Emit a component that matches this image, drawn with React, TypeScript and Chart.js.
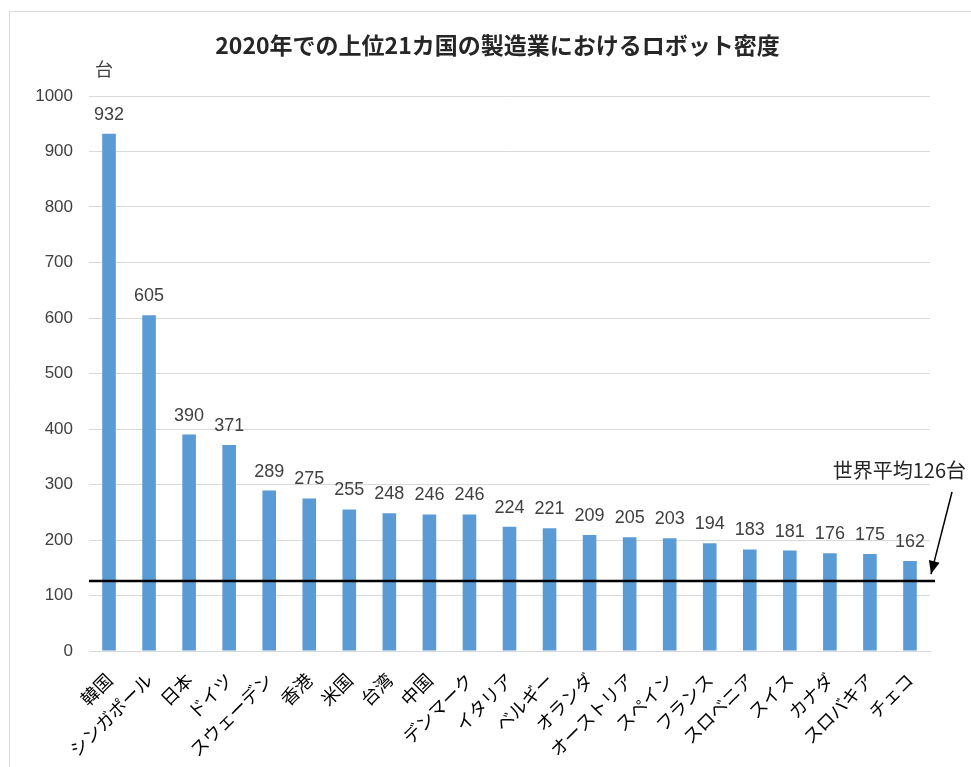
import React, { useEffect, useRef } from "react";
import { Chart, registerables } from "chart.js";

Chart.register(...registerables);

const TITLE = "2020年での上位21カ国の製造業におけるロボット密度";
const UNIT = "台";
const countries = [
  "韓国", "シンガポール", "日本", "ドイツ", "スウェーデン", "香港", "米国",
  "台湾", "中国", "デンマーク", "イタリア", "ベルギー", "オランダ", "オーストリア",
  "スペイン", "フランス", "スロベニア", "スイス", "カナダ", "スロバキア", "チェコ",
];
const robotDensity = [
  932, 605, 390, 371, 289, 275, 255, 248, 246, 246, 224, 221, 209, 205, 203,
  194, 183, 181, 176, 175, 162,
];
const worldAverage = 126;
const worldAverageLabel = "世界平均126台";
const yTicks = [0, 100, 200, 300, 400, 500, 600, 700, 800, 900, 1000];

const JP_FONT = "'Noto Sans CJK JP', 'Noto Sans', sans-serif";
const NUM_FONT = "'Liberation Sans', Arial, sans-serif";

// light frame around the whole chart (left and top edges only)
const framePlugin = {
  id: "frame",
  beforeDraw(chart: any) {
    const { ctx } = chart;
    ctx.save();
    ctx.fillStyle = "#ffffff";
    ctx.fillRect(0, 0, chart.width, chart.height);
    ctx.strokeStyle = "#d9d9d9";
    ctx.lineWidth = 1;
    ctx.beginPath();
    ctx.moveTo(9.5, chart.height);
    ctx.lineTo(9.5, 11.5);
    ctx.lineTo(chart.width, 11.5);
    ctx.stroke();
    ctx.restore();
  },
};

const overlayPlugin = {
  id: "overlay",
  afterDatasetsDraw(chart: any) {
    const { ctx, chartArea, scales } = chart;
    const x = scales.x;
    const y = scales.y;
    ctx.save();

    // title
    ctx.fillStyle = "#262626";
    ctx.font = `bold 23px ${JP_FONT}`;
    ctx.textAlign = "center";
    ctx.textBaseline = "middle";
    ctx.fillText(TITLE, (chartArea.left + chartArea.right) / 2 - 12, 45);

    // unit label above the value axis
    ctx.fillStyle = "#404040";
    ctx.font = `18px ${JP_FONT}`;
    ctx.fillText(UNIT, x.getPixelForValue(0) - 5, 69);

    // value labels
    ctx.font = `18px ${NUM_FONT}`;
    ctx.fillStyle = "#404040";
    ctx.textBaseline = "alphabetic";
    const meta = chart.getDatasetMeta(0);
    meta.data.forEach((bar: any, i: number) => {
      ctx.fillText(String(robotDensity[i]), bar.x, bar.y - 14);
    });

    // world average line
    const ay = y.getPixelForValue(worldAverage);
    ctx.strokeStyle = "#000000";
    ctx.lineWidth = 2.5;
    ctx.beginPath();
    ctx.moveTo(chartArea.left, ay);
    ctx.lineTo(chartArea.right + 5, ay);
    ctx.stroke();

    // annotation text and arrow
    ctx.font = `20px ${JP_FONT}`;
    ctx.fillStyle = "#262626";
    ctx.textAlign = "right";
    ctx.textBaseline = "middle";
    ctx.fillText(worldAverageLabel, chart.width - 5, 470);

    const sx = chartArea.right + 22;
    const sy = 492;
    const ex = chartArea.right + 1;
    const ey = ay - 7;
    ctx.lineWidth = 1.5;
    ctx.beginPath();
    ctx.moveTo(sx, sy);
    ctx.lineTo(ex, ey);
    ctx.stroke();
    const ang = Math.atan2(ey - sy, ex - sx);
    const hl = 13;
    const hw = 5.5;
    ctx.beginPath();
    ctx.moveTo(ex, ey);
    ctx.lineTo(
      ex - hl * Math.cos(ang) + hw * Math.sin(ang),
      ey - hl * Math.sin(ang) - hw * Math.cos(ang)
    );
    ctx.lineTo(
      ex - hl * Math.cos(ang) - hw * Math.sin(ang),
      ey - hl * Math.sin(ang) + hw * Math.cos(ang)
    );
    ctx.closePath();
    ctx.fillStyle = "#000000";
    ctx.fill();

    ctx.restore();
  },
};

export default function App() {
  const canvasRef = useRef<HTMLCanvasElement | null>(null);

  useEffect(() => {
    document.body.style.margin = "0";
    const canvas = canvasRef.current;
    if (!canvas) return;
    const chart = new Chart(canvas, {
      type: "bar",
      data: {
        labels: countries,
        datasets: [
          {
            data: robotDensity,
            backgroundColor: "#5B9BD5",
            barPercentage: 0.34,
            categoryPercentage: 1,
          },
        ],
      },
      options: {
        animation: false,
        responsive: false,
        layout: { padding: { top: 96, left: 0, right: 41, bottom: 0 } },
        plugins: {
          legend: { display: false },
          title: { display: false },
          tooltip: { enabled: false },
        },
        scales: {
          x: {
            grid: { display: false, drawTicks: false },
            border: { display: true, color: "#d9d9d9", width: 1 },
            ticks: {
              color: "#000000",
              font: { family: JP_FONT, size: 18 },
              maxRotation: 45,
              minRotation: 45,
              autoSkip: false,
              padding: 18,
            },
            afterFit(scale: any) {
              scale.height = 116;
            },
          },
          y: {
            min: 0,
            max: 1000,
            afterBuildTicks(scale: any) {
              scale.ticks = yTicks.map((v) => ({ value: v }));
            },
            grid: { color: "#d9d9d9", lineWidth: 1, drawTicks: false },
            border: { display: false },
            ticks: {
              color: "#404040",
              font: { family: NUM_FONT, size: 17 },
              padding: 16,
              callback: (v: any) => String(v),
            },
            afterFit(scale: any) {
              scale.width = 89;
            },
          },
        },
      },
      plugins: [framePlugin, overlayPlugin],
    });
    return () => chart.destroy();
  }, []);

  return (
    <div style={{ position: "relative", width: 971, height: 767, overflow: "hidden" }}>
      <canvas ref={canvasRef} width={971} height={767} style={{ display: "block" }} />
    </div>
  );
}
